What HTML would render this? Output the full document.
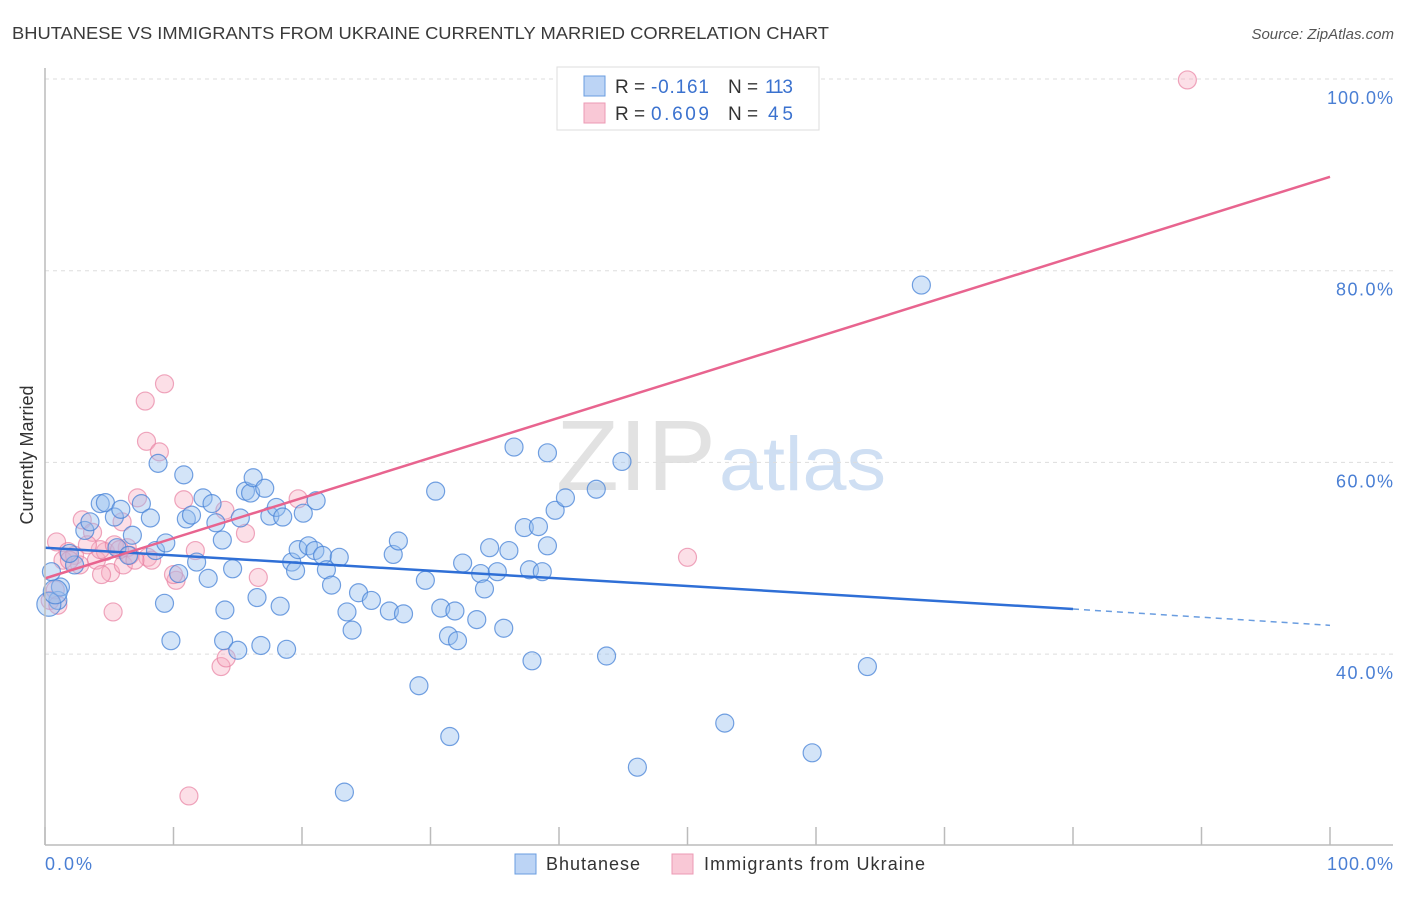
<!DOCTYPE html>
<html><head><meta charset="utf-8"><style>
body{margin:0;background:#fff;font-family:"Liberation Sans",sans-serif}
svg text{font-family:"Liberation Sans",sans-serif}
</style></head><body>
<svg id="chart" width="1406" height="892" xmlns="http://www.w3.org/2000/svg">
<text x="12" y="39" font-size="17.5" fill="#3a3a3a" textLength="817" lengthAdjust="spacingAndGlyphs">BHUTANESE VS IMMIGRANTS FROM UKRAINE CURRENTLY MARRIED CORRELATION CHART</text>
<text x="1394" y="39" font-size="15" fill="#555" text-anchor="end" font-style="italic">Source: ZipAtlas.com</text>
<text x="716" y="490" font-size="100" text-anchor="end" fill="#e2e2e2" font-family="Liberation Serif" textLength="160" lengthAdjust="spacingAndGlyphs">ZIP</text>
<text x="719" y="490" font-size="76" fill="#cfdff3" textLength="167" lengthAdjust="spacingAndGlyphs">atlas</text>
<text transform="translate(33,455) rotate(-90)" font-size="18" fill="#333" text-anchor="middle">Currently Married</text>
<g id="grid"></g><g id="ticks"></g><g id="pinkpts"></g><g id="bluepts"></g><g id="trends"></g>
<line x1="45" y1="68" x2="45" y2="845" stroke="#bbb" stroke-width="1.5"/>
<line x1="45" y1="845" x2="1393" y2="845" stroke="#bbb" stroke-width="1.5"/>
<text x="45" y="870" font-size="18" fill="#4a7fd4" textLength="47">0.0%</text>
<text x="1393" y="870" font-size="18" fill="#4a7fd4" text-anchor="end" textLength="66">100.0%</text>
<g>
<rect x="557" y="67" width="262" height="63" fill="#fff" stroke="#ddd"/>
<rect x="584" y="76" width="21" height="20" fill="#bcd4f5" stroke="#6a9de0"/>
<rect x="584" y="103" width="21" height="20" fill="#f9c8d6" stroke="#ec9ab4"/>
<text x="615" y="93" font-size="19" fill="#333">R = </text><text x="651" y="93" font-size="19" fill="#3b72cf" textLength="58">-0.161</text>
<text x="728" y="93" font-size="19" fill="#333">N = </text><text x="765" y="93" font-size="19" fill="#3b72cf" textLength="28">113</text>
<text x="615" y="120" font-size="19" fill="#333">R = </text><text x="651" y="120" font-size="19" fill="#3b72cf" textLength="58">0.609</text>
<text x="728" y="120" font-size="19" fill="#333">N = </text><text x="768" y="120" font-size="19" fill="#3b72cf" textLength="25">45</text>
</g>
<g><rect x="515" y="854" width="21" height="20" fill="#bcd4f5" stroke="#6a9de0"/><text x="546" y="870" font-size="18" fill="#333" textLength="94">Bhutanese</text></g>
<g><rect x="672" y="854" width="21" height="20" fill="#f9c8d6" stroke="#ec9ab4"/><text x="704" y="870" font-size="18" fill="#333" textLength="221">Immigrants from Ukraine</text></g>
</svg>
<script>
const yTicks=[100,80,60,40];
const yTickLabels=["100.0%","80.0%","60.0%","40.0%"];
const xTicks=[0,10,20,30,40,50,60,70,80,90,100];
const blueX=[1.0,1.2,0.5,2.3,1.9,3.1,3.5,4.3,4.7,5.4,5.9,5.6,6.5,6.8,7.5,8.2,8.6,8.8,9.4,9.3,9.8,10.4,10.8,11.0,11.4,11.8,12.3,12.7,13.0,13.3,13.8,14.0,13.9,14.6,15.0,15.2,15.6,16.0,16.2,16.5,16.8,17.1,17.5,18.0,18.5,18.3,18.8,19.2,19.5,19.7,20.1,20.5,21.0,21.1,21.6,21.9,22.3,22.9,23.3,23.5,23.9,24.4,25.4,26.8,27.1,27.5,27.9,29.1,29.6,30.4,30.8,31.4,31.5,31.9,32.1,32.5,33.6,33.9,34.6,34.2,35.2,35.7,36.1,36.5,37.3,37.7,37.9,38.4,38.7,39.1,39.1,39.7,40.5,42.9,43.7,44.9,46.1,52.9,59.7,64.0,68.2,0.3,0.8];
const blueY=[45.6,47.0,48.6,49.3,50.5,52.9,53.8,55.7,55.8,54.3,55.1,51.1,50.3,52.4,55.7,54.2,50.8,59.9,51.6,45.3,41.4,48.4,58.7,54.1,54.5,49.6,56.3,47.9,55.7,53.7,51.9,44.6,41.4,48.9,40.4,54.2,57.0,56.8,58.4,45.9,40.9,57.3,54.4,55.3,54.3,45.0,40.5,49.6,48.7,50.9,54.7,51.3,50.8,56.0,50.3,48.8,47.2,50.1,25.6,44.4,42.5,46.4,45.6,44.5,50.4,51.8,44.2,36.7,47.7,57.0,44.8,41.9,31.4,44.5,41.4,49.5,43.6,48.4,51.1,46.8,48.6,42.7,50.8,61.6,53.2,48.8,39.3,53.3,48.6,61.0,51.3,55.0,56.3,57.2,39.8,60.1,28.2,32.8,29.7,38.7,78.5,45.2,46.5];
const pinkX=[88.9,9.3,7.8,7.9,8.9,0.9,1.8,2.9,3.7,4.0,4.7,5.1,5.3,6.0,6.1,6.4,7.2,8.0,8.3,10.2,10.8,11.7,13.7,14.1,11.2,14.0,15.6,16.6,19.7,50.0,0.4,0.8,1.4,2.3,2.7,4.3,5.4,1.0,1.9,3.3,6.6,10.0,5.8,7.0,4.4];
const pinkY=[99.9,68.2,66.4,62.2,61.1,51.7,50.7,54.0,52.7,49.8,50.7,48.5,44.4,53.8,49.3,51.1,56.3,50.1,49.8,47.7,56.1,50.8,38.7,39.6,25.2,55.0,52.6,48.0,56.2,50.1,45.6,46.7,49.8,50.3,49.3,50.9,51.4,45.1,49.8,51.4,50.3,48.3,50.9,49.8,48.3];
const blueTrend=[51.1,44.7,43.0]; // at x=0, 80, 100
const pinkTrend=[47.9,89.8]; // at x=0, 100
const NS="http://www.w3.org/2000/svg";
const X=v=>45+v*12.85, Y=v=>79+(100-v)*9.585;
function mk(tag,attrs,parent){const e=document.createElementNS(NS,tag);for(const k in attrs)e.setAttribute(k,attrs[k]);document.getElementById(parent).appendChild(e);return e;}
yTicks.forEach((t,i)=>{
 const l=mk('line',{x1:45,x2:1393,y1:Y(t),y2:Y(t),stroke:'#ddd','stroke-dasharray':'4,4'},'grid');
 
 
 const tx=mk('text',{x:1393,y:Y(t)+25,'font-size':18,fill:'#4a7fd4','text-anchor':'end',textLength:(yTickLabels[i].length>5?66:57)},'grid');
 tx.textContent=yTickLabels[i];
 
 
});
xTicks.forEach(t=>{
 const l=mk('line',{x1:X(t),x2:X(t),y1:827,y2:845,stroke:'#bbb','stroke-width':1.5},'ticks');
 
 
});
pinkX.forEach((x,i)=>{
 const c=mk('circle',{cx:X(x),cy:Y(pinkY[i]),r:9,fill:'rgba(246,170,192,0.38)',stroke:'rgba(232,130,162,0.7)','stroke-width':1.2},'pinkpts');
 
 
});
blueX.forEach((x,i)=>{
 const c=mk('circle',{cx:X(x),cy:Y(blueY[i]),r:i>=blueX.length-2?12:9,fill:'rgba(150,190,238,0.42)',stroke:'rgba(70,130,215,0.75)','stroke-width':1.2},'bluepts');
 
 
});
let t1=mk('line',{x1:X(0),y1:Y(blueTrend[0]),x2:X(80),y2:Y(blueTrend[1]),stroke:'#2f6fd6','stroke-width':2.5},'trends');


let t2=mk('line',{x1:X(80),y1:Y(blueTrend[1]),x2:X(100),y2:Y(blueTrend[2]),stroke:'#6a9de0','stroke-width':1.5,'stroke-dasharray':'6,5'},'trends');


let t3=mk('line',{x1:X(0),y1:Y(pinkTrend[0]),x2:X(100),y2:Y(pinkTrend[1]),stroke:'#e8648f','stroke-width':2.5},'trends');


</script>
</body></html>
